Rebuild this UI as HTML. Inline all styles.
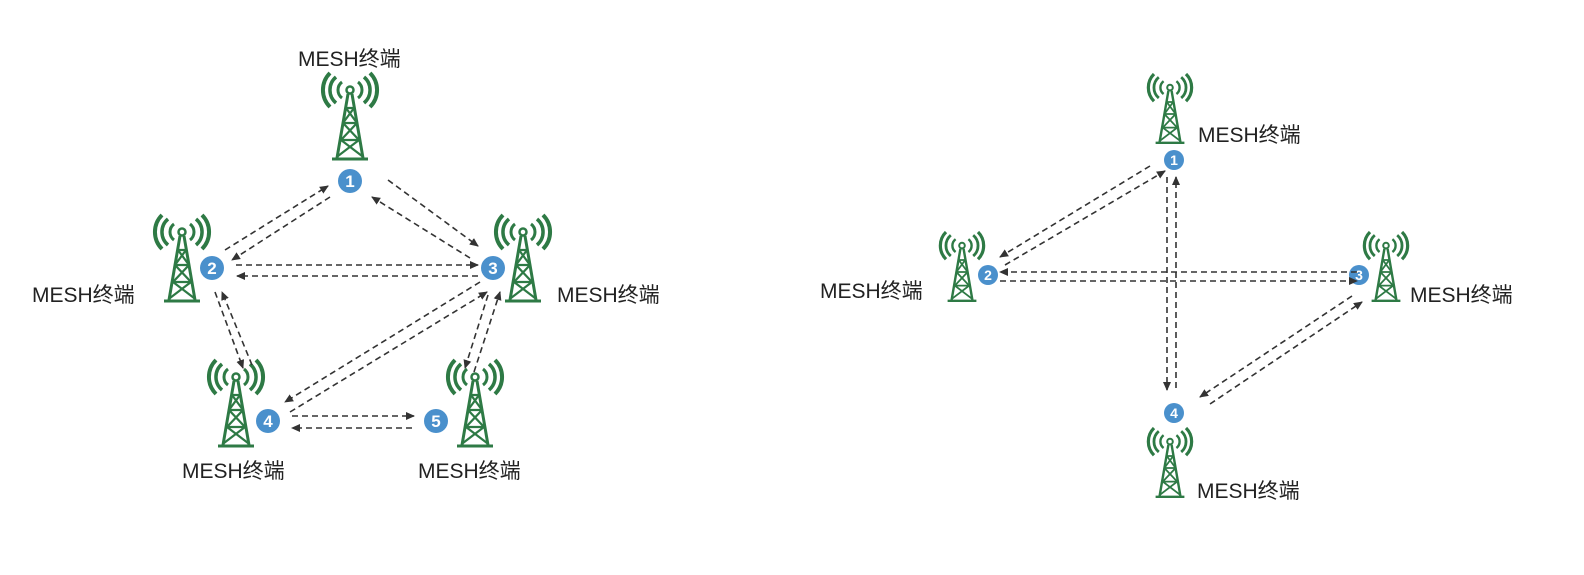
<!DOCTYPE html>
<html><head><meta charset="utf-8"><style>
body{margin:0;background:#fff}
text{font-family:"Liberation Sans","Noto Sans CJK SC",sans-serif;font-size:21px;fill:#222}
.n{font-size:17px;fill:#fff;text-anchor:middle;font-weight:bold}
.a{stroke:#333;stroke-width:1.6;stroke-dasharray:6 4;fill:none;marker-end:url(#ah)}
</style></head><body>
<svg width="1584" height="570" viewBox="0 0 1584 570" xmlns="http://www.w3.org/2000/svg">
<defs>
<marker id="ah" markerWidth="10" markerHeight="10" refX="8" refY="5" orient="auto" markerUnits="userSpaceOnUse"><path d="M0,1 L9,5 L0,9 Z" fill="#333"/></marker>
<g id="tw" fill="none" stroke="#2e7a45" stroke-width="3">
<circle cx="0" cy="12" r="3.5" stroke-width="2.5"/>
<path d="M-8,4 A10,10 0 0 0 -8,20 M8,4 A10,10 0 0 1 8,20" />
<path d="M-14,-1 A17,17 0 0 0 -14,25 M14,-1 A17,17 0 0 1 14,25" stroke-width="3.5"/>
<path d="M-20,-5 A24,24 0 0 0 -20,29 M20,-5 A24,24 0 0 1 20,29" stroke-width="4"/>
<path d="M-2,16 L-13,80 M2,16 L13,80 M-18,81 L18,81" stroke-width="3"/>
<path d="M-4,30 L7,45 L-9,62 L12,78 M4,30 L-7,45 L9,62 L-12,78 M-5,30 L5,30 M-8,45 L8,45 M-10,62 L10,62" stroke-width="2.2"/>
</g>
</defs>
<!-- left -->
<use href="#tw" transform="translate(350,78)"/>
<use href="#tw" transform="translate(182,220)"/>
<use href="#tw" transform="translate(523,220)"/>
<use href="#tw" transform="translate(236,365)"/>
<use href="#tw" transform="translate(475,365)"/>
<text x="298" y="66">MESH终端</text>
<text x="32" y="302">MESH终端</text>
<text x="557" y="302">MESH终端</text>
<text x="182" y="478">MESH终端</text>
<text x="418" y="478">MESH终端</text>
<g fill="#4a90cc">
<circle cx="350" cy="181" r="12"/><circle cx="212" cy="268" r="12"/><circle cx="493" cy="268" r="12"/><circle cx="268" cy="421" r="12"/><circle cx="436" cy="421" r="12"/>
</g>
<text class="n" x="350" y="187">1</text><text class="n" x="212" y="274">2</text><text class="n" x="493" y="274">3</text><text class="n" x="268" y="427">4</text><text class="n" x="436" y="427">5</text>
<path class="a" d="M225,250 L328,186"/><path class="a" d="M330,197 L232,260"/>
<path class="a" d="M388,180 L478,246"/><path class="a" d="M470,258 L372,197"/>
<path class="a" d="M236,265 L478,265"/><path class="a" d="M478,276 L237,276"/>
<path class="a" d="M215,292 L243,368"/><path class="a" d="M252,365 L222,292"/>
<path class="a" d="M480,282 L285,402"/><path class="a" d="M290,412 L487,292"/>
<path class="a" d="M488,295 L465,368"/><path class="a" d="M474,372 L500,292"/>
<path class="a" d="M292,416 L414,416"/><path class="a" d="M412,428 L292,428"/>
<!-- right -->
<g transform="translate(1170,78) scale(0.8)"><use href="#tw"/></g>
<g transform="translate(962,236) scale(0.8)"><use href="#tw"/></g>
<g transform="translate(1386,236) scale(0.8)"><use href="#tw"/></g>
<g transform="translate(1170,432) scale(0.8)"><use href="#tw"/></g>
<text x="1198" y="142">MESH终端</text>
<text x="820" y="298">MESH终端</text>
<text x="1410" y="302">MESH终端</text>
<text x="1197" y="498">MESH终端</text>
<g fill="#4a90cc">
<circle cx="1174" cy="160" r="10"/><circle cx="988" cy="275" r="10"/><circle cx="1359" cy="275" r="10"/><circle cx="1174" cy="413" r="10"/>
</g>
<text class="n" style="font-size:14px" x="1174" y="165">1</text><text class="n" style="font-size:14px" x="988" y="280">2</text><text class="n" style="font-size:14px" x="1359" y="280">3</text><text class="n" style="font-size:14px" x="1174" y="418">4</text>
<path class="a" d="M1005,265 L1165,171"/><path class="a" d="M1150,166 L1000,257"/>
<path class="a" d="M1167,177 L1167,390"/><path class="a" d="M1176,388 L1176,177"/>
<path class="a" d="M1357,272 L1000,272"/><path class="a" d="M1000,281 L1357,281"/>
<path class="a" d="M1352,296 L1200,397"/><path class="a" d="M1210,404 L1362,302"/>
</svg>
</body></html>
